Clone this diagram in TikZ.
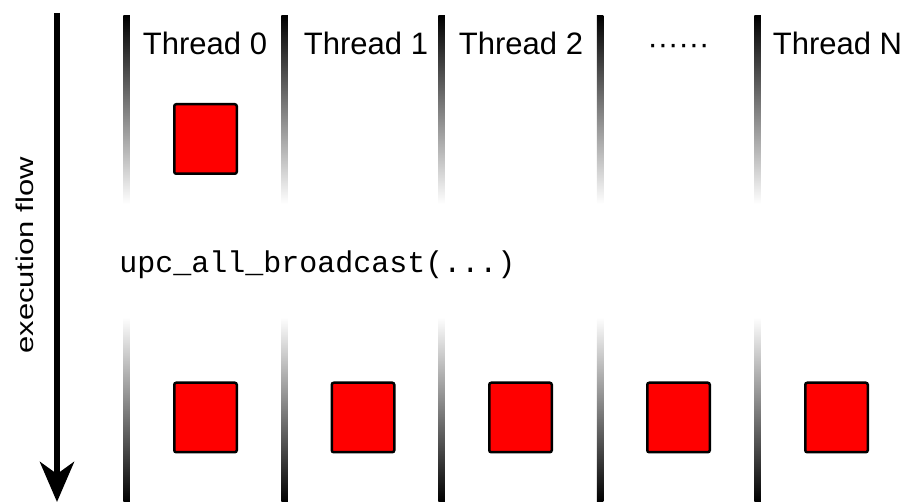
\documentclass[tikz,border=0pt]{standalone}
\usepackage{fontspec}
\setmainfont{Liberation Sans}
\setmonofont{Liberation Mono}
\usetikzlibrary{arrows.meta}
\tikzset{
  redbox/.style={draw=black, fill=red, line width=2.5pt, rounded corners=2pt,
    minimum width=62.5pt, minimum height=69.5pt, inner sep=0pt},
  threadlabel/.style={anchor=base, inner sep=0pt, font=\fontsize{31}{36}\selectfont},
  codelabel/.style={anchor=base, inner sep=0pt, font=\ttfamily\fontsize{30}{34}\selectfont},
  flowarrow/.style={line width=6.5pt, -{Stealth[length=40pt, width=34pt, inset=12pt]}},
}
\begin{document}
\begin{tikzpicture}[x=1pt, y=-1pt]
\useasboundingbox (0,0) rectangle (911,502);
% thread separator lines (fading)
\foreach \lx in {126.5, 284.5, 441.5, 600, 757.5} {
  \shade[top color=black, bottom color=white] (\lx-3.25,16) rectangle (\lx+3.25,204);
  \shade[top color=white, bottom color=black] (\lx-3.25,317) rectangle (\lx+3.25,502);
}
% execution flow arrow
\coordinate (flowtop) at (57,13);
\coordinate (flowbot) at (57,502);
\draw[flowarrow] (flowtop) -- (flowbot);
\node[rotate=90, anchor=base, inner sep=0pt, font=\fontsize{31}{36}\selectfont] (flow) at (33,255.5) {\scalebox{1}[0.78]{execution flow}};
% thread labels
\node[threadlabel] (t0) at (205,55) {Thread 0};
\node[threadlabel] (t1) at (366,55) {Thread 1};
\node[threadlabel] (t2) at (521,55) {Thread 2};
\node[threadlabel] (tdots) at (678.5,55) {······};
\node[threadlabel] (tN) at (837.5,55) {Thread N};
% data before
\node[redbox] (src) at (205.5,139) {};
% call
\node[codelabel] (call) at (317.5,273) {upc\_all\_broadcast(...)};
% data after
\node[redbox] (d0) at (205.5,417.5) {};
\node[redbox] (d1) at (363,417.5) {};
\node[redbox] (d2) at (520.5,417.5) {};
\node[redbox] (d3) at (678.5,417.5) {};
\node[redbox] (dN) at (836.5,417.5) {};
\end{tikzpicture}
\end{document}
